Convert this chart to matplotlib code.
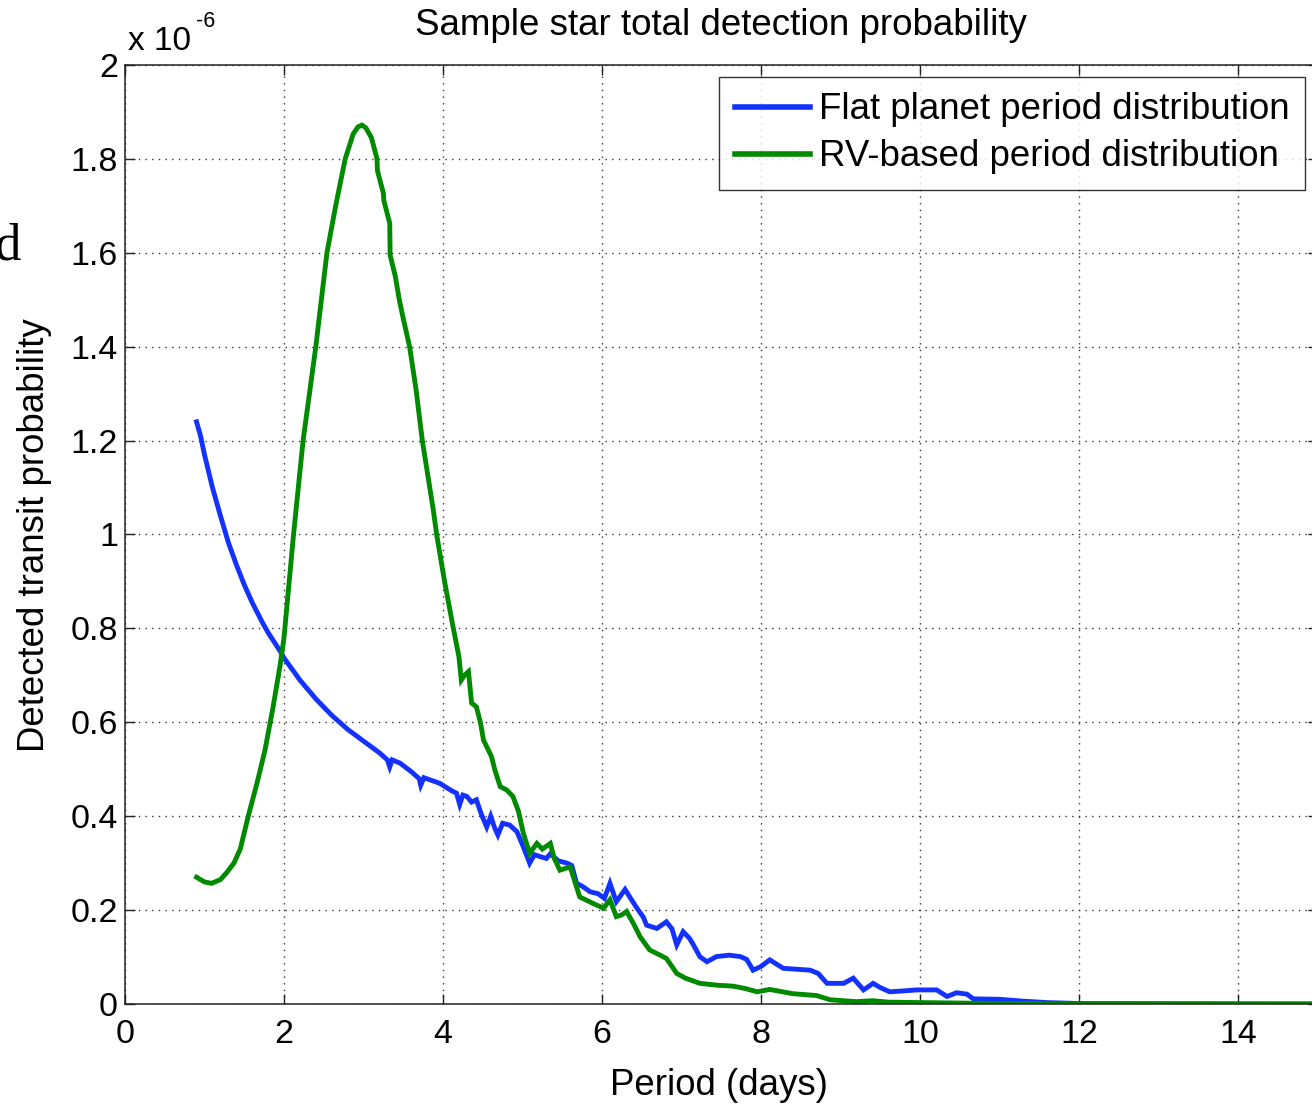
import matplotlib
matplotlib.use("Agg")
import matplotlib.pyplot as plt
from matplotlib.ticker import FuncFormatter, MultipleLocator

# ---- data (values in units of 1e-6) ----
flat_period = [0.90, 0.95, 1.0, 1.1, 1.2, 1.3, 1.4, 1.5, 1.6, 1.73, 1.8, 1.95, 2.0,
               2.2, 2.4, 2.6, 2.8, 3.0, 3.2, 3.30, 3.33, 3.36, 3.46, 3.6, 3.70, 3.72, 3.76,
               3.96, 4.10, 4.17, 4.21, 4.25, 4.30, 4.36, 4.42, 4.48, 4.55, 4.60, 4.65, 4.69,
               4.75, 4.84, 4.93, 5.01, 5.09, 5.15, 5.22, 5.30, 5.35, 5.45, 5.56, 5.62, 5.68,
               5.76, 5.85, 5.95, 6.03, 6.10, 6.18, 6.29, 6.36, 6.44, 6.52, 6.56, 6.69, 6.81,
               6.88, 6.94, 7.02, 7.10, 7.15, 7.23, 7.32, 7.44, 7.60, 7.74, 7.82, 7.90, 8.00,
               8.11, 8.28, 8.45, 8.62, 8.72, 8.83, 9.04, 9.16, 9.29, 9.41, 9.50, 9.62, 9.80,
               9.96, 10.21, 10.34, 10.46, 10.59, 10.67, 11.0, 11.3, 11.6, 12.0, 15.0]
flat_prob = [1.24, 1.21, 1.17, 1.10, 1.04, 0.983, 0.936, 0.893, 0.855, 0.812, 0.791, 0.752, 0.737,
             0.69, 0.65, 0.615, 0.585, 0.56, 0.535, 0.52, 0.505, 0.52, 0.513, 0.495, 0.48, 0.466, 0.482,
             0.47, 0.455, 0.449, 0.425, 0.445, 0.442, 0.43, 0.435, 0.405, 0.377, 0.40, 0.375, 0.36,
             0.385, 0.381, 0.367, 0.335, 0.30, 0.318, 0.314, 0.31, 0.32, 0.305, 0.30, 0.295, 0.257,
             0.25, 0.239, 0.235, 0.225, 0.257, 0.218, 0.244, 0.225, 0.204, 0.185, 0.168, 0.161, 0.175,
             0.16, 0.126, 0.154, 0.14, 0.126, 0.101, 0.09, 0.101, 0.104, 0.101, 0.095, 0.072, 0.08,
             0.094, 0.076, 0.074, 0.072, 0.065, 0.044, 0.044, 0.055, 0.03, 0.044, 0.035, 0.026, 0.028,
             0.03, 0.03, 0.016, 0.024, 0.021, 0.011, 0.01, 0.006, 0.003, 0.001, 0.0]

rv_period = [0.90, 1.0, 1.09, 1.2, 1.28, 1.37, 1.45, 1.55, 1.66, 1.76, 1.86, 1.95, 2.0, 2.06,
             2.12, 2.18, 2.24, 2.32, 2.40, 2.47, 2.54, 2.65, 2.77, 2.87, 2.93, 2.98, 3.03, 3.10,
             3.17, 3.175, 3.25, 3.255, 3.33, 3.335, 3.40, 3.45, 3.50, 3.58, 3.66, 3.74, 3.88,
             3.92, 4.02, 4.13, 4.20, 4.23, 4.27, 4.32, 4.36, 4.42, 4.47, 4.51, 4.57, 4.61, 4.65,
             4.68, 4.72, 4.80, 4.88, 4.95, 5.01, 5.09, 5.18, 5.25, 5.35, 5.40, 5.47, 5.60, 5.66,
             5.72, 5.89, 6.02, 6.10, 6.18, 6.25, 6.31, 6.40, 6.48, 6.60, 6.72, 6.81, 6.88, 6.94,
             7.05, 7.23, 7.45, 7.65, 7.80, 7.95, 8.11, 8.40, 8.70, 8.87, 9.20, 9.41, 9.60, 10.0,
             10.5, 11.0, 11.5, 12.0, 15.0]
rv_prob = [0.27, 0.26, 0.257, 0.265, 0.28, 0.30, 0.33, 0.40, 0.47, 0.54, 0.63, 0.72, 0.78, 0.89,
           1.00, 1.10, 1.20, 1.30, 1.40, 1.50, 1.60, 1.70, 1.80, 1.853, 1.868, 1.872, 1.866, 1.845,
           1.80, 1.775, 1.727, 1.712, 1.663, 1.595, 1.55, 1.50, 1.46, 1.40, 1.31, 1.20, 1.05,
           1.00, 0.90, 0.80, 0.74, 0.69, 0.70, 0.708, 0.641, 0.633, 0.60, 0.562, 0.541, 0.527, 0.50,
           0.484, 0.463, 0.456, 0.442, 0.41, 0.364, 0.321, 0.342, 0.33, 0.342, 0.31, 0.285, 0.292, 0.26,
           0.228, 0.214, 0.204, 0.222, 0.186, 0.19, 0.197, 0.17, 0.143, 0.115, 0.105, 0.097, 0.08,
           0.065, 0.055, 0.044, 0.04, 0.038, 0.033, 0.026, 0.031, 0.022, 0.018, 0.009, 0.005, 0.007,
           0.004, 0.003, 0.002, 0.001, 0.001, 0.0, 0.0]

series_labels = ["Flat planet period distribution", "RV-based period distribution"]
series_colors = ["#1432ff", "#008a00"]
title_text = "Sample star total detection probability"
xlabel_text = "Period (days)"
ylabel_text = "Detected transit probability"

W, H = 1312, 1104
fig = plt.figure(figsize=(W / 100, H / 100), dpi=100)
plt.rcParams['font.family'] = ['Liberation Sans', 'DejaVu Sans']

x0, x1, y0, y1 = 125, 1317.5, 1004, 65
ax = fig.add_axes([x0 / W, (H - y0) / H, (x1 - x0) / W, (y0 - y1) / H])
ax.plot(flat_period, flat_prob, color=series_colors[0], lw=3.5, label=series_labels[0],
        solid_joinstyle='miter')
ax.plot(rv_period, rv_prob, color=series_colors[1], lw=3.5, label=series_labels[1],
        solid_joinstyle='miter')

ax.set_xlim(0, 15)
ax.set_ylim(0, 2)
ax.xaxis.set_major_locator(MultipleLocator(2))
ax.yaxis.set_major_locator(MultipleLocator(0.2))
ax.yaxis.set_major_formatter(FuncFormatter(lambda v, p: "%g" % round(v, 2)))
ax.grid(True, linestyle=(0, (1, 3.8)), color='#333333', linewidth=1.0)
ax.tick_params(direction='in', length=7, width=1.0, top=True, right=True,
               labelsize=24.5, pad=5, colors='#222222', labelcolor='black')
ax.tick_params(axis='x', pad=11)
for s in ax.spines.values():
    s.set_linewidth(1.1)
    s.set_color('#222222')

ax.set_title(title_text, fontsize=26.5, pad=21.5)
ax.set_xlabel(xlabel_text, fontsize=26.4)
ax.set_ylabel(ylabel_text, fontsize=26.4)
ax.xaxis.set_label_coords((719 - x0) / (x1 - x0), (y0 - 1068) / (y0 - y1))
ax.yaxis.set_label_coords((52 - x0) / (x1 - x0), 0.4995)

fig.text(128 / W, 1 - 50 / H, "x 10", fontsize=24, ha='left', va='baseline')
fig.text(196 / W, 1 - 27 / H, "-6", fontsize=15.5, ha='left', va='baseline')
fig.text(20 / W, 1 - 246 / H, "d", fontsize=38, family='Liberation Serif', ha='right', va='center')

leg = ax.legend(loc='upper right', bbox_to_anchor=(1305 / W, 1 - 77 / H),
                bbox_transform=fig.transFigure, fontsize=26.4, frameon=True, fancybox=False,
                borderaxespad=0, handlelength=2.05, handletextpad=0.25, borderpad=0.42,
                labelspacing=0.33)
leg.get_frame().set_edgecolor('black')
leg.get_frame().set_linewidth(1.0)
for l in leg.get_lines():
    l.set_linewidth(4)

fig.savefig("out.png", dpi=100)
